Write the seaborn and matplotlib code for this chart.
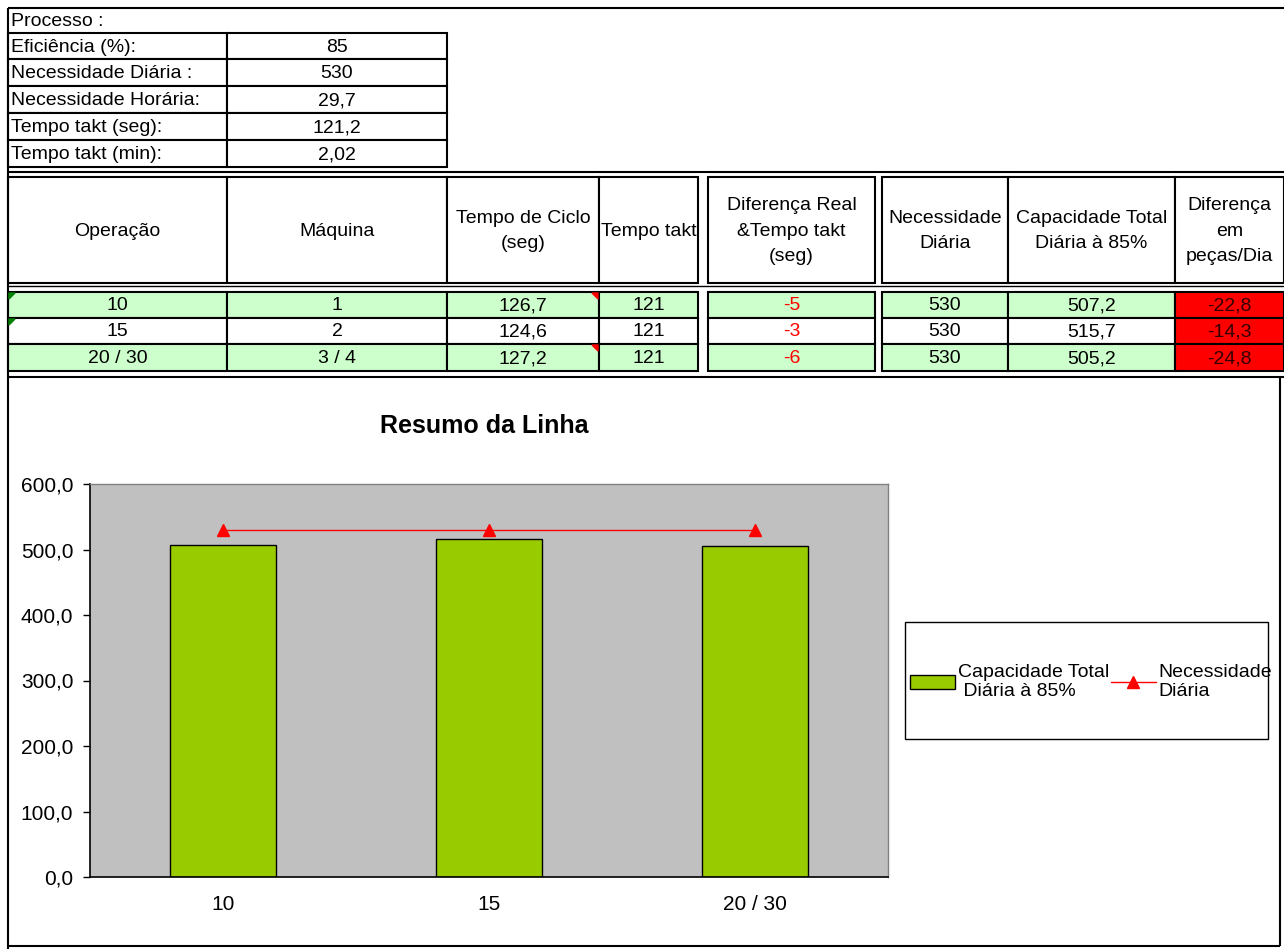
import matplotlib
matplotlib.use("Agg")
import matplotlib.pyplot as plt
import seaborn as sns
from matplotlib.patches import Rectangle, Patch, Polygon
from matplotlib.lines import Line2D
from matplotlib.ticker import FuncFormatter, FixedLocator

# data
param_labels = ["Eficiência (%):", "Necessidade Diária :", "Necessidade Horária:",
                "Tempo takt (seg):", "Tempo takt (min):"]
param_values = ["85", "530", "29,7", "121,2", "2,02"]

headers = ["Operação", "Máquina", "Tempo de Ciclo\n(seg)", "Tempo takt",
           "Diferença Real\n&Tempo takt\n(seg)", "Necessidade\nDiária",
           "Capacidade Total\nDiária à 85%", "Diferença\nem\npeças/Dia"]
operacao = ["10", "15", "20 / 30"]
maquina = ["1", "2", "3 / 4"]
tempo_ciclo = [126.7, 124.6, 127.2]
tempo_takt = [121, 121, 121]
dif_real = [-5, -3, -6]
nec_diaria = [530, 530, 530]
capacidade = [507.2, 515.7, 505.2]
dif_pecas = [-22.8, -14.3, -24.8]

sns.set_theme(style="white")
plt.rcParams['font.family'] = ['Liberation Sans', 'DejaVu Sans']
plt.rcParams['text.color'] = 'black'
plt.rcParams['xtick.color'] = 'black'
plt.rcParams['ytick.color'] = 'black'

W, H = 1284, 949
FS = 14  # table font size
fig = plt.figure(figsize=(W / 100, H / 100), dpi=100)
fig.patch.set_facecolor("white")

# background axes in pixel coordinates for the spreadsheet part
bg = fig.add_axes([0, 0, 1, 1], zorder=0)
bg.set_xlim(0, W)
bg.set_ylim(H, 0)
bg.axis("off")


def dec(v):
    return f"{v:.1f}".replace(".", ",")


def cell(x0, y0, x1, y1, text="", fill="white", color="black", ha="center", lw=1.5):
    bg.add_patch(Rectangle((x0, y0), x1 - x0, y1 - y0, facecolor=fill,
                           edgecolor="black", lw=lw))
    if text:
        tx = (x0 + x1) / 2 if ha == "center" else x0 + 3
        bg.text(tx, (y0 + y1) / 2 + 1, text, ha=ha, va="center", fontsize=FS,
                color=color, linespacing=1.65)


def hline(y, x0, x1, lw=1.5, color="black"):
    bg.plot([x0, x1], [y, y], color=color, lw=lw, solid_capstyle="butt")


def vline(x, y0, y1, lw=1.5, color="black"):
    bg.plot([x, x], [y0, y1], color=color, lw=lw, solid_capstyle="butt")


# outer frame lines
hline(8, 8, W)
vline(8, 8, H)
hline(172, 8, W)
hline(286, 8, W, lw=1)
hline(377, 8, W)
vline(1280, 377, 946)
hline(946, 8, 1280)

# parameter table
bg.text(11, 21, "Processo :", ha="left", va="center", fontsize=FS)
row_y = [33, 59, 86, 113, 140, 167]
for i, (lab, val) in enumerate(zip(param_labels, param_values)):
    cell(8, row_y[i], 227, row_y[i + 1], lab, ha="left")
    cell(227, row_y[i], 447, row_y[i + 1], val)

# main table
cols = [(8, 227), (227, 447), (447, 599), (599, 698), (708, 875),
        (882, 1008), (1008, 1175), (1175, 1284)]
for (x0, x1), h in zip(cols, headers):
    cell(x0, 177, x1, 283, h)

rows = [(292, 318), (318, 344), (344, 371)]
for r, (y0, y1) in enumerate(rows):
    fill = "#CCFFCC" if r != 1 else "white"
    vals = [operacao[r], maquina[r], dec(tempo_ciclo[r]), str(tempo_takt[r]),
            str(dif_real[r]), str(nec_diaria[r]), dec(capacidade[r]), dec(dif_pecas[r])]
    for c, ((x0, x1), v) in enumerate(zip(cols, vals)):
        f = "#FF0000" if c == 7 else fill
        col = "#FF0000" if c == 4 else ("#330000" if c == 7 else "black")
        cell(x0, y0, x1, y1, v, fill=f, color=col)
    # comment markers
    if r in (0, 1):
        bg.add_patch(Polygon([(9, y0 + 1), (15, y0 + 1), (9, y0 + 7)], color="#008000", zorder=5))
    if r in (0, 2):
        bg.add_patch(Polygon([(598, y0 + 1), (592, y0 + 1), (598, y0 + 7)], color="#FF0000", zorder=5))

# legend box
bg.add_patch(Rectangle((905, 622), 363, 117, facecolor="white", edgecolor="black", lw=1))

# chart
ax = fig.add_axes([90 / W, 1 - 877 / H, 798 / W, 393 / H], zorder=1)
ax.set_facecolor("#C0C0C0")
sns.barplot(x=operacao, y=capacidade, ax=ax, color="#99CC00", width=0.4,
            edgecolor="black", linewidth=1, saturation=1)
ax.plot(range(len(operacao)), nec_diaria, color="#FF0000", lw=1,
        marker="^", markersize=9, zorder=5)

ax.set_xlim(-0.5, len(operacao) - 0.5)
ax.set_ylim(0, 600)
ax.set_yticks(range(0, 601, 100))
ax.yaxis.set_major_formatter(FuncFormatter(lambda v, p: dec(v)))
ax.xaxis.set_minor_locator(FixedLocator([-0.5, 0.5, 1.5, 2.5]))
ax.tick_params(axis="x", which="major", length=0, pad=13, labelsize=15)
ax.tick_params(axis="x", which="minor", direction="inout", length=10, width=1, color="black")
ax.tick_params(axis="y", direction="out", length=5, width=1, color="black", labelsize=15, pad=7, left=True)
ax.set_xlabel("")
ax.set_ylabel("")
for s in ["left", "bottom"]:
    ax.spines[s].set_color("black")
    ax.spines[s].set_linewidth(1.2)
for s in ["top", "right"]:
    ax.spines[s].set_color("#808080")
    ax.spines[s].set_linewidth(1)

fig.text(484 / W, 1 - 426 / H, "Resumo da Linha", ha="center", va="center",
         fontsize=18, fontweight="bold")

handles = [Patch(facecolor="#99CC00", edgecolor="black", lw=1),
           Line2D([0], [0], color="#FF0000", lw=1, marker="^", markersize=9)]
fig.legend(handles, ["Capacidade Total\n Diária à 85%", "Necessidade\nDiária"],
           loc="center", bbox_to_anchor=(1091 / W, 1 - 682 / H), ncol=2,
           frameon=False, fontsize=14, handlelength=2.3, handletextpad=0.15,
           columnspacing=0.1, borderpad=0, labelspacing=0)

fig.savefig("out.png", dpi=100)
